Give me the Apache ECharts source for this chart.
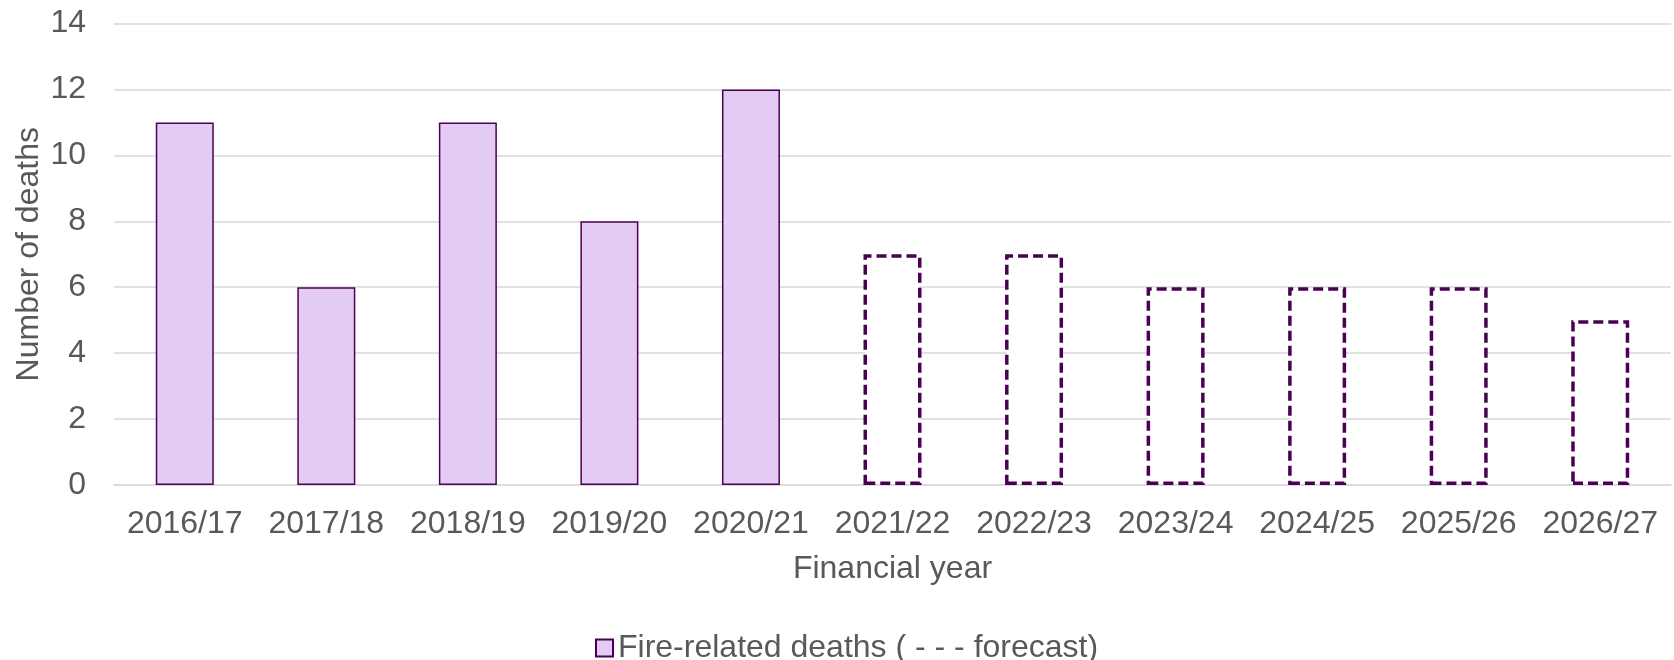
<!DOCTYPE html>
<html>
<head>
<meta charset="utf-8">
<script src="https://cdn.jsdelivr.net/npm/echarts@6/dist/echarts.min.js"></script>
<style>
  html, body { margin: 0; padding: 0; background: #fff; }
  #chart { width: 1674px; height: 660px; }
</style>
</head>
<body>
<div id="chart"></div>
<script>
// data
const years = ['2016/17', '2017/18', '2018/19', '2019/20', '2020/21', '2021/22',
  '2022/23', '2023/24', '2024/25', '2025/26', '2026/27']
const deaths = [11, 6, 11, 8, 12, 7, 7, 6, 6, 6, 5]
const isForecast = [false, false, false, false, false, true, true, true, true, true, true]
const yTicks = [0, 2, 4, 6, 8, 10, 12, 14]

const textColor = '#595959'
const purple = '#4B0055'
const lilac = '#E4CBF4'
const font = 'Liberation Sans, Arial, sans-serif'
const fs = 32

const chart = echarts.init(document.getElementById('chart'))

const barData = deaths.map((v, i) => {
  if (!isForecast[i]) return v
  return {
    value: v,
    itemStyle: {
      color: '#ffffff',
      borderColor: purple,
      borderWidth: 3.5,
      borderType: [10, 5]
    }
  }
})

chart.setOption({
  animation: false,
  textStyle: { fontFamily: font },
  grid: { left: 114, right: 3, top: 23.5, bottom: 175, containLabel: false },
  legend: {
    left: 590,
    top: 627,
    itemWidth: 17,
    itemHeight: 17,
    icon: 'rect',
    textStyle: { color: textColor, fontSize: fs, fontFamily: font },
    data: ['Fire-related deaths ( - - - forecast)']
  },
  xAxis: {
    type: 'category',
    data: years,
    name: 'Financial year',
    nameLocation: 'middle',
    nameGap: 68,
    nameMoveOverlap: false,
    nameTextStyle: { color: textColor, fontSize: fs, fontFamily: font },
    axisLine: { lineStyle: { color: '#D9D9D9', width: 1.5 } },
    axisTick: { show: false },
    axisLabel: { color: textColor, fontSize: fs, margin: 23, interval: 0, fontFamily: font }
  },
  yAxis: {
    type: 'value',
    min: yTicks[0],
    max: yTicks[yTicks.length - 1],
    interval: 2,
    name: 'Number of deaths',
    nameLocation: 'middle',
    nameGap: 69,
    nameMoveOverlap: false,
    nameTextStyle: { color: textColor, fontSize: fs, fontFamily: font },
    axisLine: { show: false },
    axisTick: { show: false },
    axisLabel: { color: textColor, fontSize: fs, margin: 28, fontFamily: font },
    splitLine: { lineStyle: { color: '#D9D9D9', width: 1.5 } }
  },
  series: [{
    name: 'Fire-related deaths ( - - - forecast)',
    type: 'bar',
    barWidth: 58,
    data: barData,
    itemStyle: { color: lilac, borderColor: purple, borderWidth: 1.5 }
  }]
})
</script>
</body>
</html>
